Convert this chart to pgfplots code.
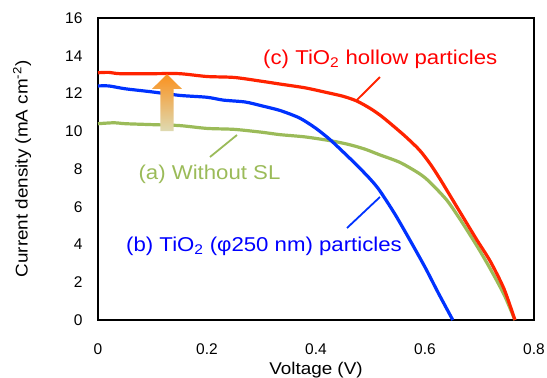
\documentclass[border=0pt]{standalone}
\usepackage{fontspec}
\setmainfont{Liberation Sans}[FakeStretch=1.11]
\newfontfamily\tickfont{Liberation Sans}
\usepackage{pgfplots}
\pgfplotsset{compat=1.18}
\definecolor{cRed}{RGB}{255,35,0}
\definecolor{cRedT}{RGB}{255,0,0}
\definecolor{cBlue}{RGB}{0,50,255}
\definecolor{cBlueT}{RGB}{0,0,255}
\definecolor{cGreen}{RGB}{155,187,89}
\definecolor{cArrTop}{RGB}{250,145,30}
\definecolor{cArrBot}{RGB}{222,218,178}
\begin{document}
\begin{tikzpicture}
\useasboundingbox (-98pt,-58pt) rectangle (449pt,320pt);
\begin{axis}[
  at={(0,0)}, anchor=south west,
  scale only axis, width=436pt, height=302pt,
  xmin=0, xmax=0.8, ymin=0, ymax=16,
  xtick={0,0.2,0.4,0.6,0.8}, xticklabels={0,0.2,0.4,0.6,0.8},
  ytick={0,2,...,16}, yticklabels={0,2,4,6,8,10,12,14,16},
  major tick length=0pt,
  axis line style={line width=1.2pt},
  tick label style={font=\tickfont\fontsize{15.5}{18}\selectfont},
  xticklabel style={yshift=-20pt},
  yticklabel style={xshift=-12pt},
  xlabel={Voltage (V)},
  ylabel={Current density (mA cm\textsuperscript{-2})},
  label style={font=\fontsize{17}{20}\selectfont},
  xlabel style={at={(axis description cs:0.5,-0.165)}, anchor=center},
  ylabel style={at={(axis description cs:-0.1743,0.5)}, anchor=center, rotate=0},
  clip=false,
]
\addplot[cGreen, line width=3.2pt, smooth, tension=0.45] coordinates {
(0,10.4) (0.03,10.45) (0.05,10.4) (0.1,10.35) (0.15,10.3) (0.2,10.15) (0.25,10.1)
(0.3,9.95) (0.334,9.82) (0.38,9.7) (0.426,9.5) (0.46,9.3) (0.49,9.05) (0.517,8.75)
(0.554,8.35) (0.59,7.75) (0.609,7.3) (0.64,6.35) (0.664,5.35) (0.685,4.4) (0.70,3.7)
(0.72,2.7) (0.745,1.35) (0.765,0)};
\addplot[cBlue, line width=3.2pt, smooth, tension=0.45] coordinates {
(0,12.4) (0.02,12.4) (0.05,12.25) (0.095,12.1) (0.15,11.9) (0.2,11.8) (0.23,11.65)
(0.27,11.55) (0.3,11.35) (0.334,11.1) (0.37,10.7) (0.4,10.15) (0.426,9.55) (0.45,8.9)
(0.475,8.2) (0.5,7.45) (0.517,6.85) (0.545,5.6) (0.572,4.25) (0.6,2.8) (0.625,1.4) (0.651,0)};
\addplot[cRed, line width=3.2pt, smooth, tension=0.45] coordinates {
(0,13.1) (0.02,13.12) (0.04,13.05) (0.1,13.05) (0.15,13.05) (0.2,12.9) (0.25,12.85)
(0.3,12.65) (0.334,12.5) (0.38,12.3) (0.42,12.05) (0.45,11.85) (0.475,11.6) (0.5,11.2)
(0.52,10.8) (0.541,10.3) (0.565,9.7) (0.59,9.0) (0.61,8.25) (0.628,7.45) (0.65,6.4)
(0.673,5.3) (0.695,4.25) (0.72,3.1) (0.745,1.65) (0.765,0)};
% arrow
\shade[top color=cArrTop, bottom color=cArrBot]
 (axis cs:0.1146,10.01) -- (axis cs:0.1146,12.24) -- (axis cs:0.0991,12.24)
 -- (axis cs:0.1266,13.03) -- (axis cs:0.1541,12.24) -- (axis cs:0.1386,12.24)
 -- (axis cs:0.1386,10.01) -- cycle;
% leader lines
\draw[cRed, line width=1.8pt] (axis cs:0.5174,12.874) -- (axis cs:0.4752,11.656);
\draw[cGreen, line width=1.8pt] (axis cs:0.2055,8.636) -- (axis cs:0.2550,9.801);
\draw[cBlue, line width=1.8pt] (axis cs:0.4569,4.874) -- (axis cs:0.5174,6.517);
% labels
\node[anchor=base west, inner sep=0pt, text=cRedT, font=\fontsize{20}{24}\selectfont]
 at (axis cs:0.3028,13.548) {(c) TiO\textsubscript{2} hollow particles};
\node[anchor=base west, inner sep=0pt, text=cGreen, font=\fontsize{20}{24}\selectfont]
 at (axis cs:0.0740,7.45) {(a) Without SL};
\node[anchor=base west, inner sep=0pt, text=cBlueT, font=\fontsize{20}{24}\selectfont]
 at (axis cs:0.0514,3.62) {(b) TiO\textsubscript{2} (φ250 nm) particles};
\end{axis}
\end{tikzpicture}
\end{document}
